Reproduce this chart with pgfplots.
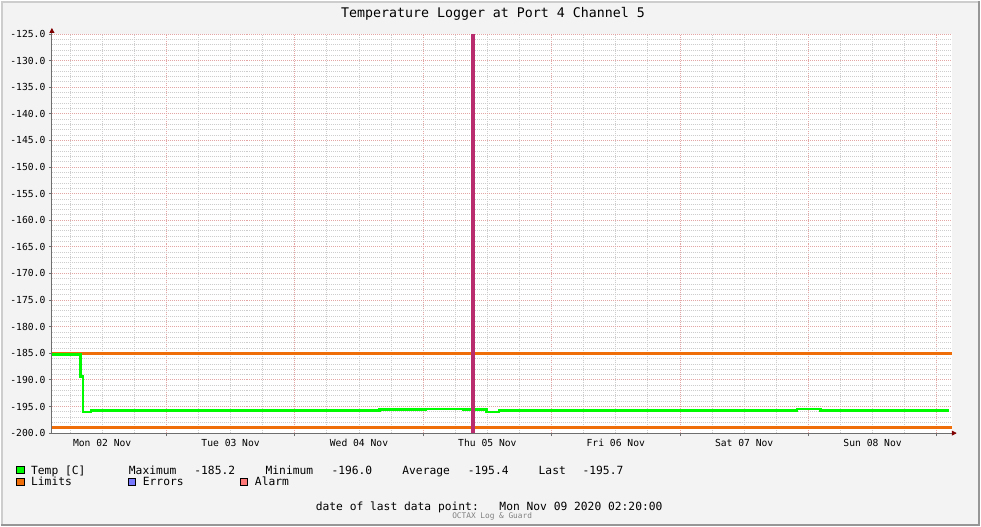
\documentclass[border=0pt]{standalone}
\usepackage{fontspec}
\setmainfont{DejaVu Sans Mono}
\usepackage{pgfplots}
\pgfplotsset{compat=1.18}
\usetikzlibrary{arrows.meta}
\definecolor{bgc}{RGB}{243,243,243}
\definecolor{tempgreen}{RGB}{0,250,0}
\definecolor{limorange}{RGB}{240,110,10}
\definecolor{markmag}{RGB}{185,45,110}
\definecolor{errblue}{RGB}{120,120,255}
\definecolor{alarmred}{RGB}{255,120,120}
\definecolor{mgridc}{RGB}{228,165,165}
\definecolor{gridc}{RGB}{205,205,205}
\definecolor{axisc}{RGB}{110,110,110}
\definecolor{arrowc}{RGB}{128,0,0}
\begin{document}
\begin{tikzpicture}[x=1pt,y=1pt]
\fill[bgc] (0,0) rectangle (981,526);
\draw[line width=2pt, color={rgb,255:red,205;green,205;blue,205}] (0,525)--(981,525);
\draw[line width=2pt, color={rgb,255:red,205;green,205;blue,205}] (1,0)--(1,526);
\draw[line width=2pt, color={rgb,255:red,150;green,150;blue,150}] (0,1)--(981,1);
\draw[line width=2pt, color={rgb,255:red,150;green,150;blue,150}] (980,0)--(980,526);
\begin{axis}[
  at={(51pt,93pt)}, anchor=south west,
  scale only axis, width=901.7pt, height=400pt,
  xmin=2.6, xmax=170.8, ymin=-200, ymax=-125,
  axis background/.style={fill=white},
  axis lines=left,
  axis line style={draw=axisc, line width=0.8pt},
  every outer x axis line/.append style={-{Triangle[length=5pt,width=5pt,color=arrowc]}, shorten >=-5pt},
  every outer y axis line/.append style={-{Triangle[length=5pt,width=5pt,color=arrowc]}, shorten >=-6pt},
  grid=both,
  major grid style={draw=mgridc, dash pattern=on 1pt off 1pt, line width=0.8pt},
  minor grid style={draw=gridc, dash pattern=on 1pt off 1pt, line width=0.8pt},
  xtick={24,48,...,168}, xticklabels={,,,,,,,},
  minor xtick={6,12,...,168},
  extra x ticks={12,36,60,84,108,132,156},
  extra x tick labels={Mon 02 Nov,Tue 03 Nov,Wed 04 Nov,Thu 05 Nov,Fri 06 Nov,Sat 07 Nov,Sun 08 Nov},
  extra x tick style={grid=none, major tick length=0pt},
  xticklabel style={yshift=-2.5pt},
  ytick={-200,-195,...,-125}, minor y tick num=4,
  tick align=outside, major tick length=3pt, minor tick length=0pt,
  tick style={draw=axisc, line width=0.8pt},
  ticklabel style={font=\fontsize{9.7}{10}\selectfont},
  yticklabel style={/pgf/number format/.cd, fixed, fixed zerofill, precision=1, assume math mode=true},
]
\addplot[limorange, line width=2.6pt] coordinates {(2.6,-185) (170.8,-185)};
\addplot[limorange, line width=2.6pt] coordinates {(2.6,-199) (170.8,-199)};
\addplot[tempgreen, line width=2.6pt, const plot] coordinates {
(2.6,-185.2) (8.0,-189.4) (8.4,-196.0) (9.9,-195.7) (63.8,-195.6) (72.4,-195.45)
(79.5,-195.6) (83.8,-196.0) (86.2,-195.8) (113.0,-195.7) (127.0,-195.8) (129.8,-195.7)
(141.9,-195.45) (146.3,-195.7) (162.9,-195.8) (165.1,-195.7) (166.2,-195.8) (167.0,-195.7)
(170.3,-195.7)};
\addplot[markmag, line width=4pt] coordinates {(81.3,-200) (81.3,-125)};
\end{axis}
\node[font=\fontsize{13.3}{14}\selectfont] at (493,513) {Temperature Logger at Port 4 Channel 5};
\begin{scope}[every node/.style={anchor=base west, inner sep=0pt, font=\fontsize{11.3}{12}\selectfont}]
\filldraw[fill=tempgreen, draw=black, line width=0.8pt] (15.5,52.5) rectangle (23,59.5);
\node at (30,52) {Temp [C]};
\node at (128,52) {Maximum};
\node at (193.6,52) {-185.2};
\node at (265,52) {Minimum};
\node at (331,52) {-196.0};
\node at (402,52) {Average};
\node at (467.6,52) {-195.4};
\node at (538.6,52) {Last};
\node at (582.6,52) {-195.7};
\filldraw[fill=limorange, draw=black, line width=0.8pt] (15.5,40.8) rectangle (23,47.8);
\node at (30,40.3) {Limits};
\filldraw[fill=errblue, draw=black, line width=0.8pt] (127.5,40.8) rectangle (135,47.8);
\node at (142,40.3) {Errors};
\filldraw[fill=alarmred, draw=black, line width=0.8pt] (239.5,40.8) rectangle (247,47.8);
\node at (254.3,40.3) {Alarm};
\node at (315.3,15.2) {date of last data point:};
\node at (499.3,15.2) {Mon Nov 09 2020 02:20:00};
\node[font=\fontsize{7.8}{8}\selectfont, text=gray] at (452,7.6) {OCTAX Log \& Guard};
\end{scope}
\end{tikzpicture}
\end{document}
